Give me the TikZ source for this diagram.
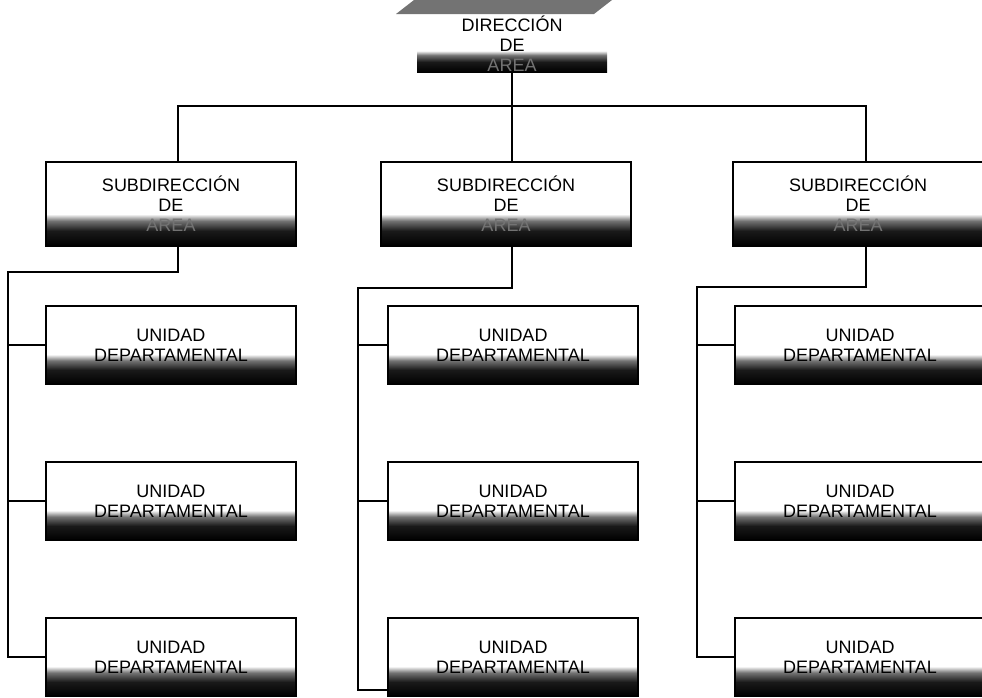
\documentclass[tikz,border=0pt]{standalone}
\usepackage{fontspec}
\setmainfont{Liberation Sans}
\pgfdeclareverticalshading{scanshade}{100bp}{color(0bp)=(black); color(25bp)=(black); color(34bp)=(black!90); color(40bp)=(black!55); color(44bp)=(white); color(100bp)=(white)}
\tikzset{
	box/.style={draw, line width=1.3pt, shading=scanshade, minimum width=250pt, minimum height=78pt, align=center, inner sep=0pt, font=\fontsize{18}{20}\selectfont},
	subbox/.style={box, minimum height=84pt},
	link/.style={line width=1.3pt},
}
\newcommand{\dimtxt}[1]{{\color{black!55}#1}}
\begin{document}
\begin{tikzpicture}[x=1pt,y=-1pt]
	\useasboundingbox (0,0) rectangle (982,697);
	\fill[black!55] (396,14) -- (414,0) -- (612,0) -- (594,14) -- cycle;
	\node[box, draw=none, minimum width=190pt, minimum height=56pt] (dir) at (512,44) {DIRECCIÓN\\DE\\\dimtxt{AREA}};
	\foreach\n/\x in {1/171,2/506,3/858}{
		\node[subbox] (sub\n) at (\x,204) {SUBDIRECCIÓN\\DE\\\dimtxt{AREA}};
	}
	\foreach\c/\x in {1/171,2/513,3/860}{
		\foreach\r/\y in {1/345,2/501,3/657}{
			\node[box] (u\c\r) at (\x,\y) {UNIDAD\\DEPARTAMENTAL};
		}
	}
	\coordinate (bus) at (512,106);
	\coordinate (t1) at (8,272);
	\coordinate (t2) at (358,288);
	\coordinate (t3) at (697,287);
	\draw[link] (dir.south) -- ([xshift=6pt]sub2.north);
	\draw[link] ([xshift=7pt]sub1.north) |- (bus) -| ([xshift=8pt]sub3.north);
	\draw[link] ([xshift=7pt]sub1.south) |- (t1) |- (u13.west);
	\draw[link] ([xshift=6pt]sub2.south) |- (t2) |- ([yshift=-33pt]u23.west);
	\draw[link] ([xshift=8pt]sub3.south) |- (t3) |- (u33.west);
	\foreach\c in {1,2,3}{
		\foreach\r in {1,2}{
			\draw[link] (u\c\r.west) -- (u\c\r.west -| t\c);
		}
	}
\end{tikzpicture}
\end{document}
